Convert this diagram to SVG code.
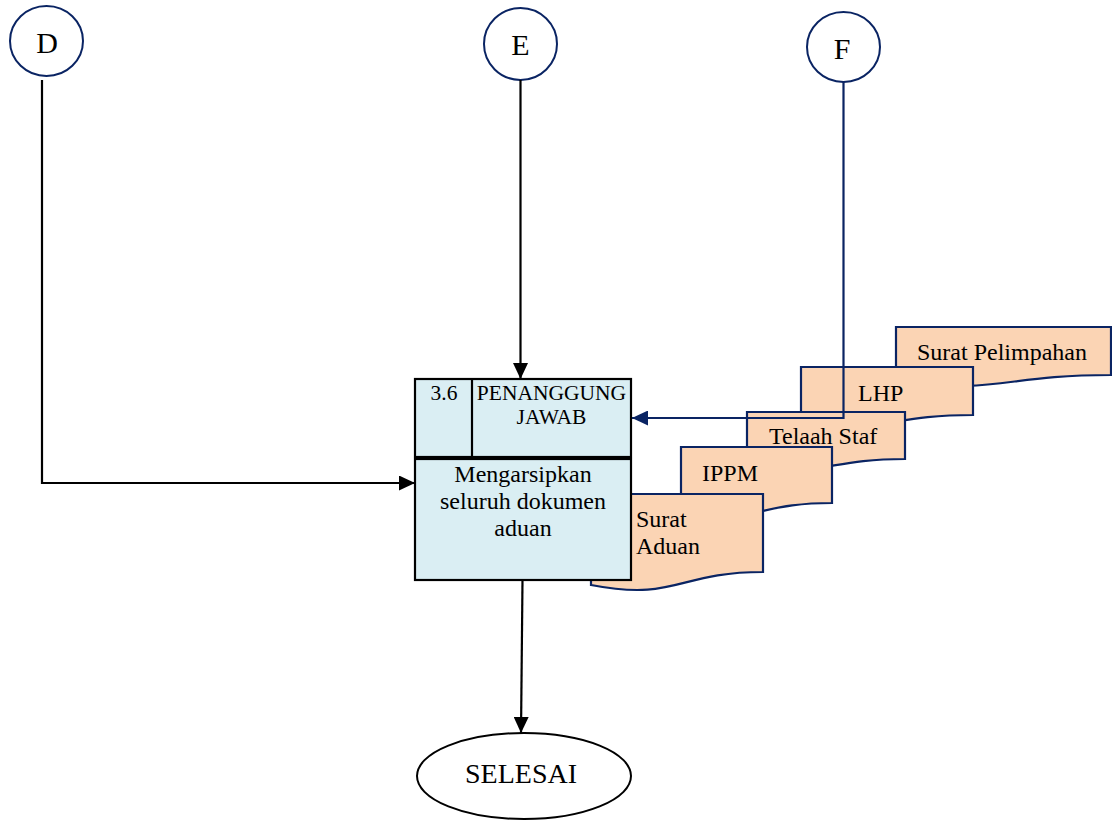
<svg xmlns="http://www.w3.org/2000/svg" width="1112" height="820" viewBox="0 0 1112 820">
<style>
  .t{font-family:"Liberation Serif","Times New Roman",serif;fill:#000}
  .conn{fill:none;stroke:#000;stroke-width:2.2}
  .connB{fill:none;stroke:#0A2463;stroke-width:2.2}
  .circ{fill:#fff;stroke:#0A2463;stroke-width:2}
  .doc{fill:#FBD4B4;stroke:#0A2463;stroke-width:2.2}
  .proc{fill:#DAEEF3;stroke:#000;stroke-width:2.2}
</style>
<defs>
  <marker id="ah" markerUnits="userSpaceOnUse" markerWidth="16" markerHeight="15" refX="16" refY="7.5" orient="auto">
    <path d="M0,0 L16,7.5 L0,15 z" fill="#000"/>
  </marker>
  <marker id="ahB" markerUnits="userSpaceOnUse" markerWidth="16" markerHeight="15" refX="16" refY="7.5" orient="auto">
    <path d="M0,0 L16,7.5 L0,15 z" fill="#0A2463"/>
  </marker>
</defs>

<g id="doc-surat-pelimpahan">
  <path class="doc" d="M896,327 H1111 V375 C1003.5,375 1003.5,393.4 896,383 Z"/>
  <text class="t" x="917" y="360" font-size="24">Surat Pelimpahan</text>
</g>
<g id="doc-lhp">
  <path class="doc" d="M801,367 H973 V415 C887,415 887,433.4 801,423 Z"/>
  <text class="t" x="858" y="401" font-size="24">LHP</text>
</g>
<g id="doc-telaah-staf">
  <path class="doc" d="M747,412 H905 V459 C826,459 826,477 747,467 Z"/>
  <text class="t" x="769" y="444" font-size="24">Telaah Staf</text>
</g>
<g id="doc-ippm">
  <path class="doc" d="M681,447 H832 V503 C756.5,503 756.5,524.5 681,512.4 Z"/>
  <text class="t" x="702" y="481" font-size="24">IPPM</text>
</g>
<g id="doc-surat-aduan">
  <path class="doc" d="M591,494 H763 V572 C677,572 677,601.5 591,585 Z"/>
  <text class="t" x="636" y="527" font-size="24">Surat</text>
  <text class="t" x="636" y="554" font-size="24">Aduan</text>
</g>

<g id="proc-3-6">
  <rect class="proc" x="415" y="379" width="216" height="78"/>
  <rect class="proc" x="415" y="459" width="216" height="121"/>
  <line x1="472" y1="379" x2="472" y2="457" stroke="#000" stroke-width="2.2"/>
  <text class="t" x="444" y="400" font-size="21.5" text-anchor="middle">3.6</text>
  <text class="t" x="551.5" y="400" font-size="21.5" text-anchor="middle">PENANGGUNG</text>
  <text class="t" x="551.5" y="424" font-size="21.5" text-anchor="middle">JAWAB</text>
  <text class="t" x="523" y="482" font-size="24" text-anchor="middle">Mengarsipkan</text>
  <text class="t" x="523" y="509" font-size="24" text-anchor="middle">seluruh dokumen</text>
  <text class="t" x="523" y="536" font-size="24" text-anchor="middle">aduan</text>
</g>

<g id="conn-D">
  <ellipse class="circ" cx="46.5" cy="41" rx="36.5" ry="35"/>
  <text class="t" x="47" y="53" font-size="30" text-anchor="middle">D</text>
</g>
<g id="conn-E">
  <ellipse class="circ" cx="520.5" cy="44" rx="36.5" ry="36"/>
  <text class="t" x="520.5" y="55" font-size="30" text-anchor="middle">E</text>
</g>
<g id="conn-F">
  <ellipse class="circ" cx="843.5" cy="47" rx="36.5" ry="35"/>
  <text class="t" x="842" y="59" font-size="30" text-anchor="middle">F</text>
</g>

<g id="selesai">
  <ellipse cx="524" cy="776" rx="107" ry="43" fill="#fff" stroke="#000" stroke-width="2"/>
  <text class="t" x="521" y="783" font-size="28" text-anchor="middle">SELESAI</text>
</g>

<g id="connectors">
  <path class="conn" d="M42,80 V483 H415" marker-end="url(#ah)"/>
  <path class="conn" d="M520.5,80 V379" marker-end="url(#ah)"/>
  <path class="connB" d="M843.5,82 V418 H632" marker-end="url(#ahB)"/>
  <path class="conn" d="M522.5,580 L521,733" marker-end="url(#ah)"/>
</g>
</svg>
